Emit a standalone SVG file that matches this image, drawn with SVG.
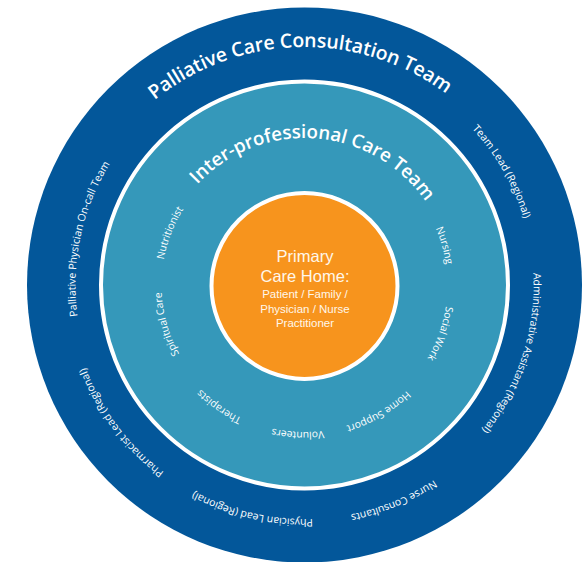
<svg xmlns="http://www.w3.org/2000/svg" xmlns:xlink="http://www.w3.org/1999/xlink" width="588" height="562" viewBox="0 0 588 562">
<style>
.curve{font-family:"Open Sans","DejaVu Sans",sans-serif;fill:#ffffff;text-anchor:middle}
.title{font-size:19.5px;font-weight:600;letter-spacing:-0.1px}
.sub{font-size:18.7px;font-weight:600}
.lab{font-size:10.5px}
.lab2{font-size:10.3px}
.center{font-family:"Liberation Sans",Arial,sans-serif;fill:#fff7ea;text-anchor:middle}
</style>
<defs>
<path id="pTitle" d="M304.5,47 A238,238 0 1 1 304.5,523 A238,238 0 1 1 304.5,47 A238,238 0 1 1 304.5,523 A238,238 0 1 1 304.5,47"/>
<path id="pOuterSide" d="M304.5,56 A229,229 0 1 1 304.5,514 A229,229 0 1 1 304.5,56 A229,229 0 1 1 304.5,514 A229,229 0 1 1 304.5,56"/>
<path id="pOuterBottom" d="M304.5,51 A234,234 0 1 1 304.5,519 A234,234 0 1 1 304.5,51 A234,234 0 1 1 304.5,519 A234,234 0 1 1 304.5,51"/>
<path id="pSub" d="M304.5,138 A147,147 0 1 1 304.5,432 A147,147 0 1 1 304.5,138 A147,147 0 1 1 304.5,432 A147,147 0 1 1 304.5,138"/>
<path id="pInnerSide" d="M304.5,142 A143,143 0 1 1 304.5,428 A143,143 0 1 1 304.5,142 A143,143 0 1 1 304.5,428 A143,143 0 1 1 304.5,142"/>
</defs>
<rect width="588" height="562" fill="#ffffff"/>
<g id="outer-ring">
<circle cx="304.5" cy="285" r="277.5" fill="#03579a"/>
<text class="curve title"><textPath xlink:href="#pTitle" startOffset="1489.6">Palliative Care Consultation Team</textPath></text>
<text class="curve lab"><textPath xlink:href="#pOuterSide" startOffset="1678.7">Team Lead (Regional)</textPath></text>
<text class="curve lab"><textPath xlink:href="#pOuterSide" startOffset="1870.6">Administrative Assistant (Regional)</textPath></text>
<text class="curve lab"><textPath xlink:href="#pOuterBottom" startOffset="2112.7">Nurse Consultants</textPath></text>
<text class="curve lab"><textPath xlink:href="#pOuterBottom" startOffset="788.2">Physician Lead (Regional)</textPath></text>
<text class="curve lab"><textPath xlink:href="#pOuterBottom" startOffset="951.6">Pharmacist Lead (Regional)</textPath></text>
<text class="curve lab"><textPath xlink:href="#pOuterSide" startOffset="1127.1">Palliative Physician On-call Team</textPath></text>
</g>
<g id="middle-ring">
<circle cx="304.5" cy="285" r="203.5" fill="#3598ba" stroke="#ffffff" stroke-width="4"/>
<text class="curve sub"><textPath xlink:href="#pSub" startOffset="934.4">Inter-professional Care Team</textPath></text>
<text class="curve lab2"><textPath xlink:href="#pInnerSide" startOffset="726.3">Nutritionist</textPath></text>
<text class="curve lab2"><textPath xlink:href="#pInnerSide" startOffset="633.9">Spiritual Care</textPath></text>
<text class="curve lab2"><textPath xlink:href="#pSub" startOffset="551.6">Therapists</textPath></text>
<text class="curve lab2"><textPath xlink:href="#pSub" startOffset="468.2">Volunteers</textPath></text>
<text class="curve lab2"><textPath xlink:href="#pSub" startOffset="1307.2">Home Support</textPath></text>
<text class="curve lab2"><textPath xlink:href="#pInnerSide" startOffset="1171.8">Social Work</textPath></text>
<text class="curve lab2"><textPath xlink:href="#pInnerSide" startOffset="1083.2">Nursing</textPath></text>
</g>
<g id="primary-care-home">
<circle cx="304.5" cy="286" r="93" fill="#f7941d" stroke="#ffffff" stroke-width="4"/>
<text class="center" x="305" y="261.7" font-size="16.5">Primary</text>
<text class="center" x="305" y="281.7" font-size="16.5">Care Home:</text>
<text class="center" x="305" y="297.7" font-size="11.5">Patient / Family /</text>
<text class="center" x="305" y="312.7" font-size="11.5">Physician / Nurse</text>
<text class="center" x="305" y="326.7" font-size="11.5">Practitioner</text>
</g>
</svg>
